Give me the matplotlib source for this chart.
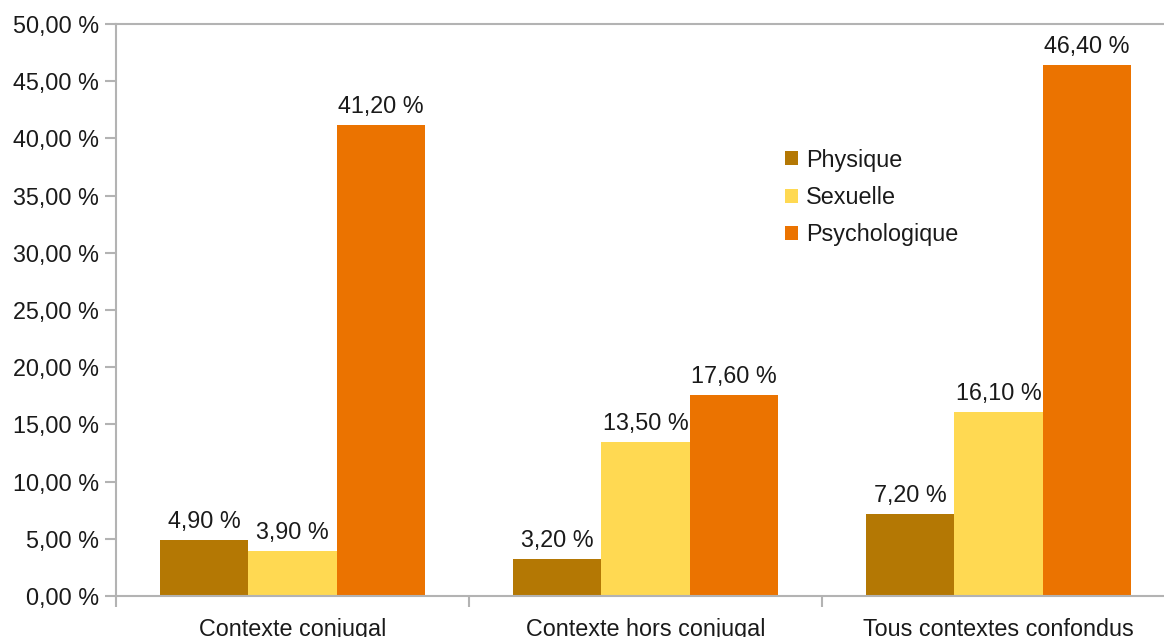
import numpy as np
import matplotlib.pyplot as plt
from matplotlib.ticker import FixedLocator, FuncFormatter

plt.rcParams['font.family'] = ['Liberation Sans', 'DejaVu Sans']

categories = ['Contexte conjugal', 'Contexte hors conjugal', 'Tous contextes confondus']
series = ['Physique', 'Sexuelle', 'Psychologique']
physique = [4.9, 3.2, 7.2]
sexuelle = [3.9, 13.5, 16.1]
psycho = [41.2, 17.6, 46.4]
colors = ['#b47804', '#ffd952', '#eb7300']

def pct(v):
    return '{:.2f} %'.format(v).replace('.', ',')

fig = plt.figure(figsize=(11.64, 6.37), dpi=100)
ax = fig.add_axes([116/1164, 41/637, 1059/1164, 572/637])

x = np.arange(len(categories))
w = 0.25
txt = '#1a1a1a'
fs = 16.8
for i, (vals, name) in enumerate(zip([physique, sexuelle, psycho], series)):
    pos = x + (i - 1) * w
    ax.bar(pos, vals, width=w, color=colors[i], label=name)
    for p, v in zip(pos, vals):
        ax.annotate(pct(v), (p, v), xytext=(0, 5), textcoords='offset points',
                    ha='center', va='bottom', fontsize=fs, color=txt)

ax.set_xlim(-0.5, 2.5)
ax.set_ylim(0, 50)
ax.set_yticks(np.arange(0, 50.1, 5))
ax.yaxis.set_major_formatter(FuncFormatter(lambda v, _: pct(v)))
ax.set_xticks(x)
ax.set_xticklabels(categories)
ax.xaxis.set_minor_locator(FixedLocator([-0.5, 0.5, 1.5, 2.5]))

gray = '#b3b3b3'
for s in ['left', 'bottom', 'top']:
    ax.spines[s].set_color(gray)
    ax.spines[s].set_linewidth(1.5)
ax.spines['right'].set_visible(False)
ax.tick_params(axis='y', length=8, width=1.5, color=gray, labelsize=fs,
               labelcolor=txt, pad=4)
ax.tick_params(axis='x', which='major', length=0, labelsize=fs,
               labelcolor=txt, pad=16)
ax.tick_params(axis='x', which='minor', length=8, width=1.5, color=gray)

# legend sits inside the plot, right of the middle group
ax.legend(loc='upper left', bbox_to_anchor=(0.612, 0.819), frameon=False,
          fontsize=fs, handlelength=0.55, handleheight=0.55, handletextpad=0.35,
          labelspacing=0.62, labelcolor=txt)

fig.savefig('out.png', dpi=100)
